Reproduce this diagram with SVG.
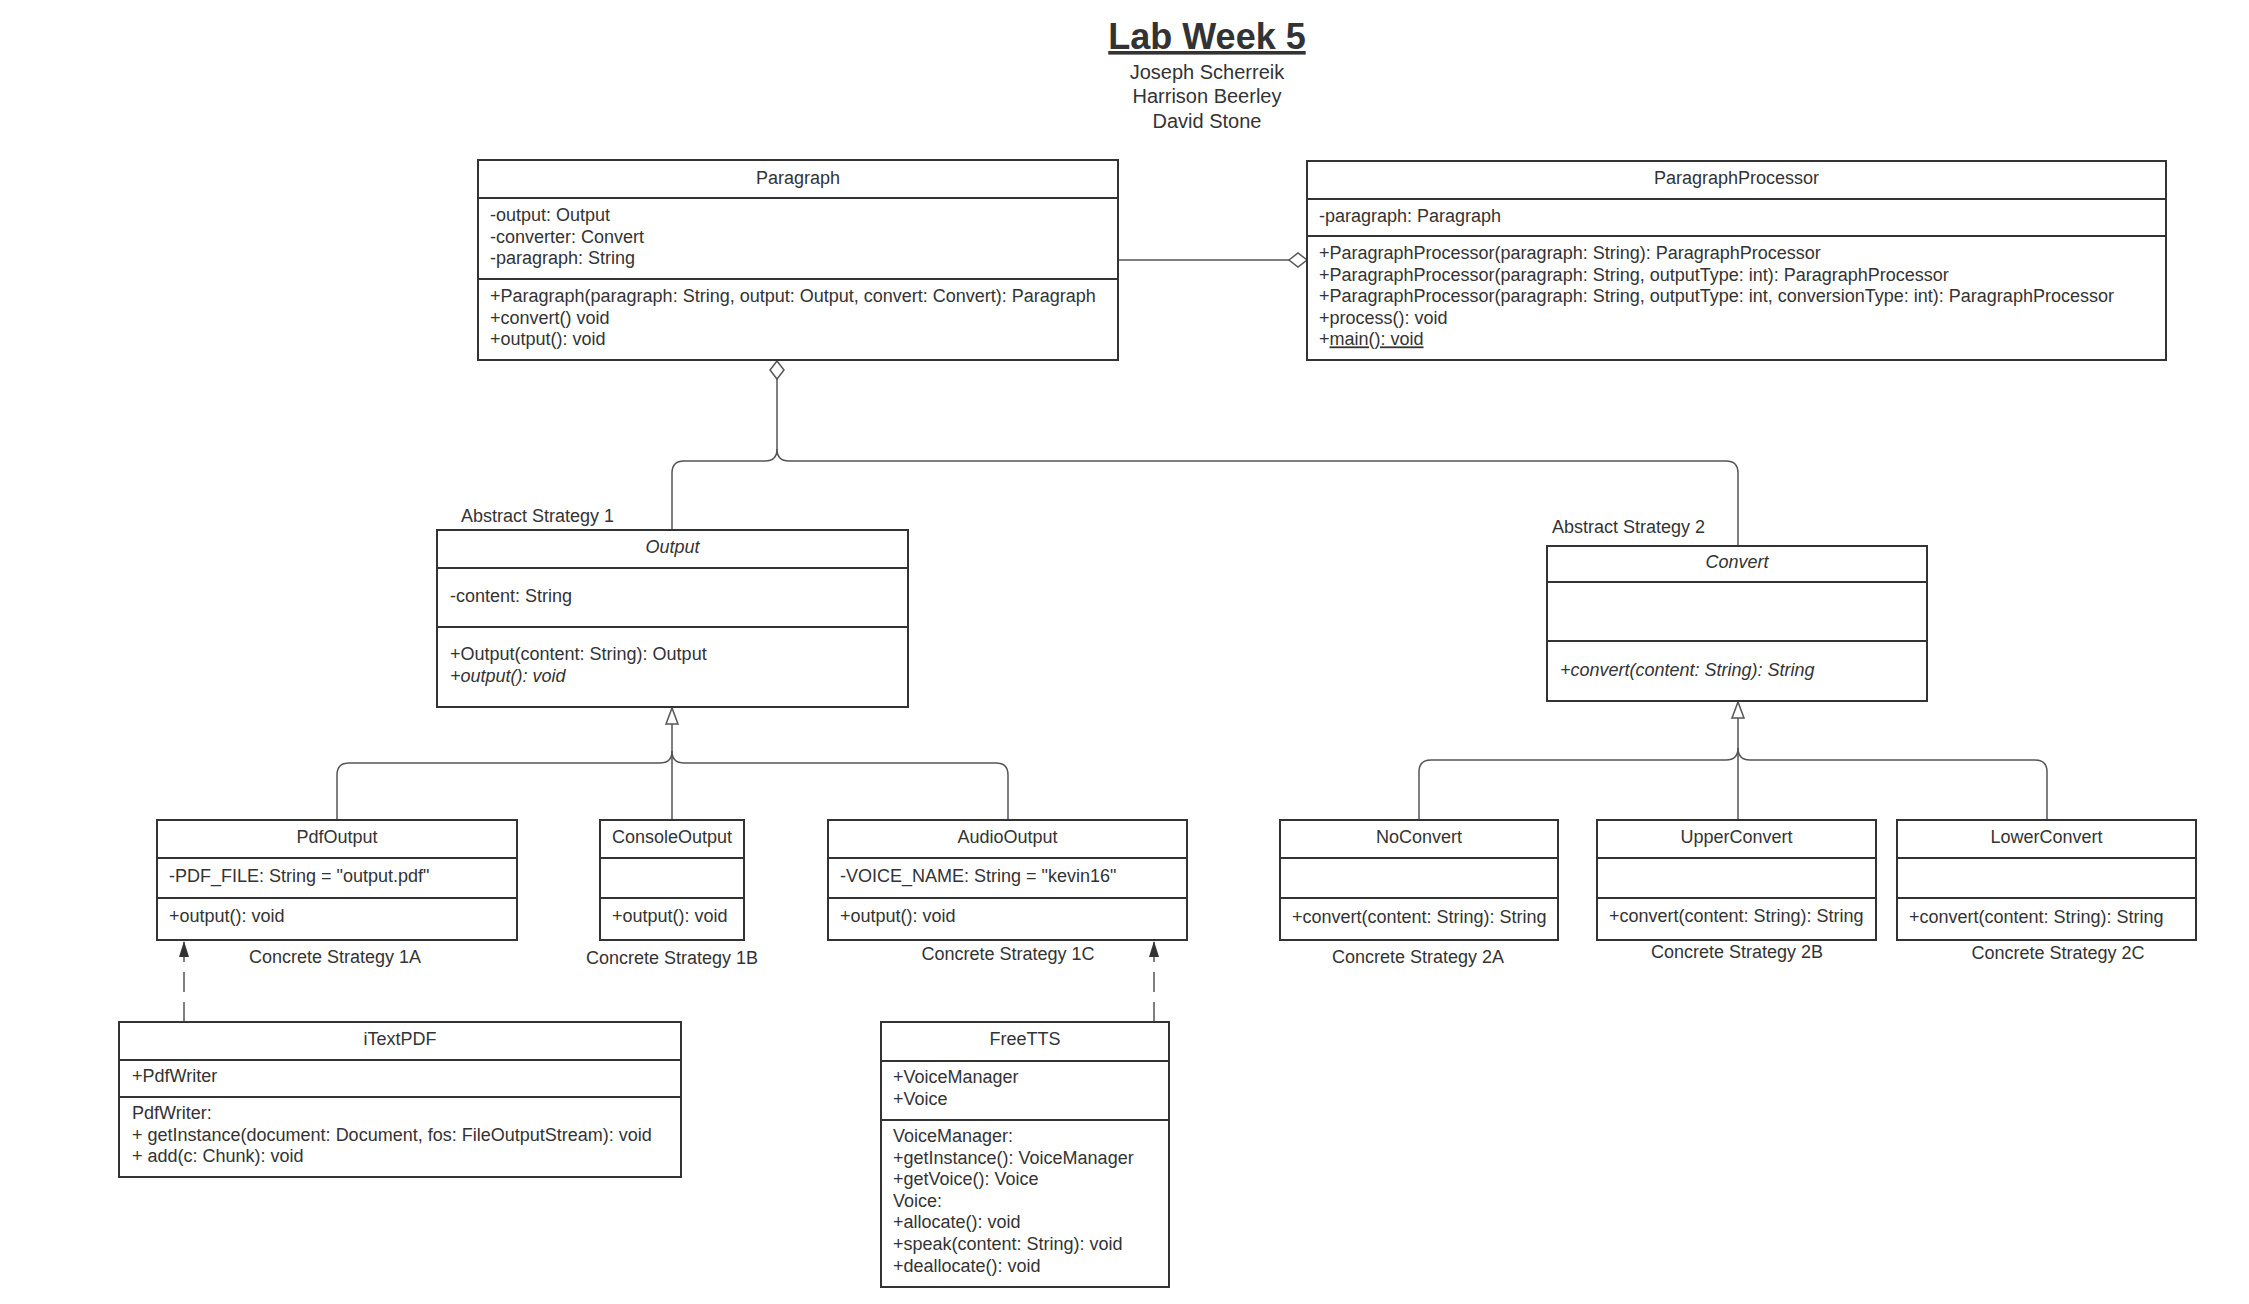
<svg xmlns="http://www.w3.org/2000/svg" width="2249" height="1304" viewBox="0 0 2249 1304">
<style>
.bg{fill:#ffffff}
.box{fill:#ffffff;stroke:#333333;stroke-width:2}
.dv{stroke:#333333;stroke-width:2}
.t{font-family:"Liberation Sans",Arial,Helvetica,sans-serif;font-size:18px;fill:#333333}
.c{text-anchor:middle}
.i{font-style:italic}
.conn{fill:none;stroke:#555555;stroke-width:1.5}
.dash{stroke-dasharray:20 10}
</style>
<defs>
<marker id="tri" markerUnits="userSpaceOnUse" viewBox="-1 -1 18 14" refX="16" refY="6" markerWidth="18" markerHeight="14" orient="auto" overflow="visible">
<path d="M0,0 L16,6 L0,12 Z" fill="#ffffff" stroke="#555555" stroke-width="1.5"/>
</marker>
<marker id="dia" markerUnits="userSpaceOnUse" viewBox="-1 -1 20 16" refX="18" refY="7" markerWidth="20" markerHeight="16" orient="auto" overflow="visible">
<path d="M0,7 L9,0 L18,7 L9,14 Z" fill="#ffffff" stroke="#555555" stroke-width="1.5"/>
</marker>
<marker id="arr" markerUnits="userSpaceOnUse" viewBox="0 0 16 10" refX="16" refY="5" markerWidth="16" markerHeight="10" orient="auto" overflow="visible">
<path d="M0,0 L16,5 L0,10 Z" fill="#333333"/>
</marker>
</defs>
<rect class="bg" x="0" y="0" width="2249" height="1304"/>

<g id="title">
<text x="1207" y="49" class="t c" style="font-size:36px;font-weight:bold;text-decoration:underline">Lab Week 5</text>
<text x="1207" y="79" class="t c" style="font-size:20px">Joseph Scherreik</text>
<text x="1207" y="103" class="t c" style="font-size:20px">Harrison Beerley</text>
<text x="1207" y="128" class="t c" style="font-size:20px">David Stone</text>
</g>

<g id="connectors">
<path class="conn" d="M1118,260 H1307" marker-end="url(#dia)"/>
<path class="conn" d="M672,530 V473 Q672,461 684,461 H765 Q777,461 777,449 V361" marker-end="url(#dia)"/>
<path class="conn" d="M1738,546 V473 Q1738,461 1726,461 H789 Q777,461 777,449"/>
<path class="conn" d="M672,820 V708" marker-end="url(#tri)"/>
<path class="conn" d="M337,820 V775 Q337,763 349,763 H660 Q672,763 672,751"/>
<path class="conn" d="M1008,820 V775 Q1008,763 996,763 H684 Q672,763 672,751"/>
<path class="conn" d="M1738,820 V702" marker-end="url(#tri)"/>
<path class="conn" d="M1419,820 V772 Q1419,760 1431,760 H1726 Q1738,760 1738,748"/>
<path class="conn" d="M2047,820 V772 Q2047,760 2035,760 H1750 Q1738,760 1738,748"/>
<path class="conn dash" d="M184,1022 V941" marker-end="url(#arr)"/>
<path class="conn dash" d="M1154,1022 V941" marker-end="url(#arr)"/>
</g>

<g id="paragraph">
<rect class="box" x="478" y="160" width="640" height="200"/>
<line class="dv" x1="478" y1="198" x2="1118" y2="198"/>
<line class="dv" x1="478" y1="279" x2="1118" y2="279"/>
<text x="798" y="184" class="t c">Paragraph</text>
<text x="490" y="221" class="t">-output: Output</text>
<text x="490" y="242.6" class="t">-converter: Convert</text>
<text x="490" y="264.2" class="t">-paragraph: String</text>
<text x="490" y="302" class="t">+Paragraph(paragraph: String, output: Output, convert: Convert): Paragraph</text>
<text x="490" y="323.6" class="t">+convert() void</text>
<text x="490" y="345.2" class="t">+output(): void</text>
</g>

<g id="paragraphprocessor">
<rect class="box" x="1307" y="161" width="859" height="199"/>
<line class="dv" x1="1307" y1="199" x2="2166" y2="199"/>
<line class="dv" x1="1307" y1="236" x2="2166" y2="236"/>
<text x="1736.5" y="184" class="t c">ParagraphProcessor</text>
<text x="1319" y="222" class="t">-paragraph: Paragraph</text>
<text x="1319" y="259" class="t">+ParagraphProcessor(paragraph: String): ParagraphProcessor</text>
<text x="1319" y="280.6" class="t">+ParagraphProcessor(paragraph: String, outputType: int): ParagraphProcessor</text>
<text x="1319" y="302.2" class="t">+ParagraphProcessor(paragraph: String, outputType: int, conversionType: int): ParagraphProcessor</text>
<text x="1319" y="323.8" class="t">+process(): void</text>
<text x="1319" y="345.4" class="t">+<tspan style="text-decoration:underline">main(): void</tspan></text>
</g>

<g id="output">
<text x="461" y="522" class="t">Abstract Strategy 1</text>
<rect class="box" x="437" y="530" width="471" height="177"/>
<line class="dv" x1="437" y1="568" x2="908" y2="568"/>
<line class="dv" x1="437" y1="627" x2="908" y2="627"/>
<text x="672.5" y="553" class="t c i">Output</text>
<text x="450" y="602" class="t">-content: String</text>
<text x="450" y="660" class="t">+Output(content: String): Output</text>
<text x="450" y="681.6" class="t i">+output(): void</text>
</g>

<g id="convert">
<text x="1552" y="533" class="t">Abstract Strategy 2</text>
<rect class="box" x="1547" y="546" width="380" height="155"/>
<line class="dv" x1="1547" y1="582" x2="1927" y2="582"/>
<line class="dv" x1="1547" y1="641" x2="1927" y2="641"/>
<text x="1737" y="568" class="t c i">Convert</text>
<text x="1560" y="676" class="t i">+convert(content: String): String</text>
</g>

<g id="pdfoutput">
<rect class="box" x="157" y="820" width="360" height="120"/>
<line class="dv" x1="157" y1="858" x2="517" y2="858"/>
<line class="dv" x1="157" y1="898" x2="517" y2="898"/>
<text x="337" y="843" class="t c">PdfOutput</text>
<text x="169" y="882" class="t">-PDF_FILE: String = "output.pdf"</text>
<text x="169" y="922" class="t">+output(): void</text>
<text x="335" y="963" class="t c">Concrete Strategy 1A</text>
</g>

<g id="consoleoutput">
<rect class="box" x="600" y="820" width="144" height="120"/>
<line class="dv" x1="600" y1="858" x2="744" y2="858"/>
<line class="dv" x1="600" y1="898" x2="744" y2="898"/>
<text x="672" y="843" class="t c">ConsoleOutput</text>
<text x="612" y="922" class="t">+output(): void</text>
<text x="672" y="964" class="t c">Concrete Strategy 1B</text>
</g>

<g id="audiooutput">
<rect class="box" x="828" y="820" width="359" height="120"/>
<line class="dv" x1="828" y1="858" x2="1187" y2="858"/>
<line class="dv" x1="828" y1="898" x2="1187" y2="898"/>
<text x="1007.5" y="843" class="t c">AudioOutput</text>
<text x="840" y="882" class="t">-VOICE_NAME: String = "kevin16"</text>
<text x="840" y="922" class="t">+output(): void</text>
<text x="1008" y="960" class="t c">Concrete Strategy 1C</text>
</g>

<g id="noconvert">
<rect class="box" x="1280" y="820" width="278" height="120"/>
<line class="dv" x1="1280" y1="858" x2="1558" y2="858"/>
<line class="dv" x1="1280" y1="898" x2="1558" y2="898"/>
<text x="1419" y="843" class="t c">NoConvert</text>
<text x="1292" y="923" class="t">+convert(content: String): String</text>
<text x="1418" y="963" class="t c">Concrete Strategy 2A</text>
</g>

<g id="upperconvert">
<rect class="box" x="1597" y="820" width="279" height="120"/>
<line class="dv" x1="1597" y1="858" x2="1876" y2="858"/>
<line class="dv" x1="1597" y1="898" x2="1876" y2="898"/>
<text x="1736.5" y="843" class="t c">UpperConvert</text>
<text x="1609" y="922" class="t">+convert(content: String): String</text>
<text x="1737" y="958" class="t c">Concrete Strategy 2B</text>
</g>

<g id="lowerconvert">
<rect class="box" x="1897" y="820" width="299" height="120"/>
<line class="dv" x1="1897" y1="858" x2="2196" y2="858"/>
<line class="dv" x1="1897" y1="898" x2="2196" y2="898"/>
<text x="2046.5" y="843" class="t c">LowerConvert</text>
<text x="1909" y="923" class="t">+convert(content: String): String</text>
<text x="2058" y="959" class="t c">Concrete Strategy 2C</text>
</g>

<g id="itextpdf">
<rect class="box" x="119" y="1022" width="562" height="155"/>
<line class="dv" x1="119" y1="1060" x2="681" y2="1060"/>
<line class="dv" x1="119" y1="1097" x2="681" y2="1097"/>
<text x="400" y="1045" class="t c">iTextPDF</text>
<text x="132" y="1082" class="t">+PdfWriter</text>
<text x="132" y="1119" class="t">PdfWriter:</text>
<text x="132" y="1140.6" class="t">+ getInstance(document: Document, fos: FileOutputStream): void</text>
<text x="132" y="1162.2" class="t">+ add(c: Chunk): void</text>
</g>

<g id="freetts">
<rect class="box" x="881" y="1022" width="288" height="265"/>
<line class="dv" x1="881" y1="1061" x2="1169" y2="1061"/>
<line class="dv" x1="881" y1="1120" x2="1169" y2="1120"/>
<text x="1025" y="1045" class="t c">FreeTTS</text>
<text x="893" y="1083" class="t">+VoiceManager</text>
<text x="893" y="1104.6" class="t">+Voice</text>
<text x="893" y="1142" class="t">VoiceManager:</text>
<text x="893" y="1163.6" class="t">+getInstance(): VoiceManager</text>
<text x="893" y="1185.2" class="t">+getVoice(): Voice</text>
<text x="893" y="1206.8" class="t">Voice:</text>
<text x="893" y="1228.4" class="t">+allocate(): void</text>
<text x="893" y="1250" class="t">+speak(content: String): void</text>
<text x="893" y="1271.6" class="t">+deallocate(): void</text>
</g>
</svg>
